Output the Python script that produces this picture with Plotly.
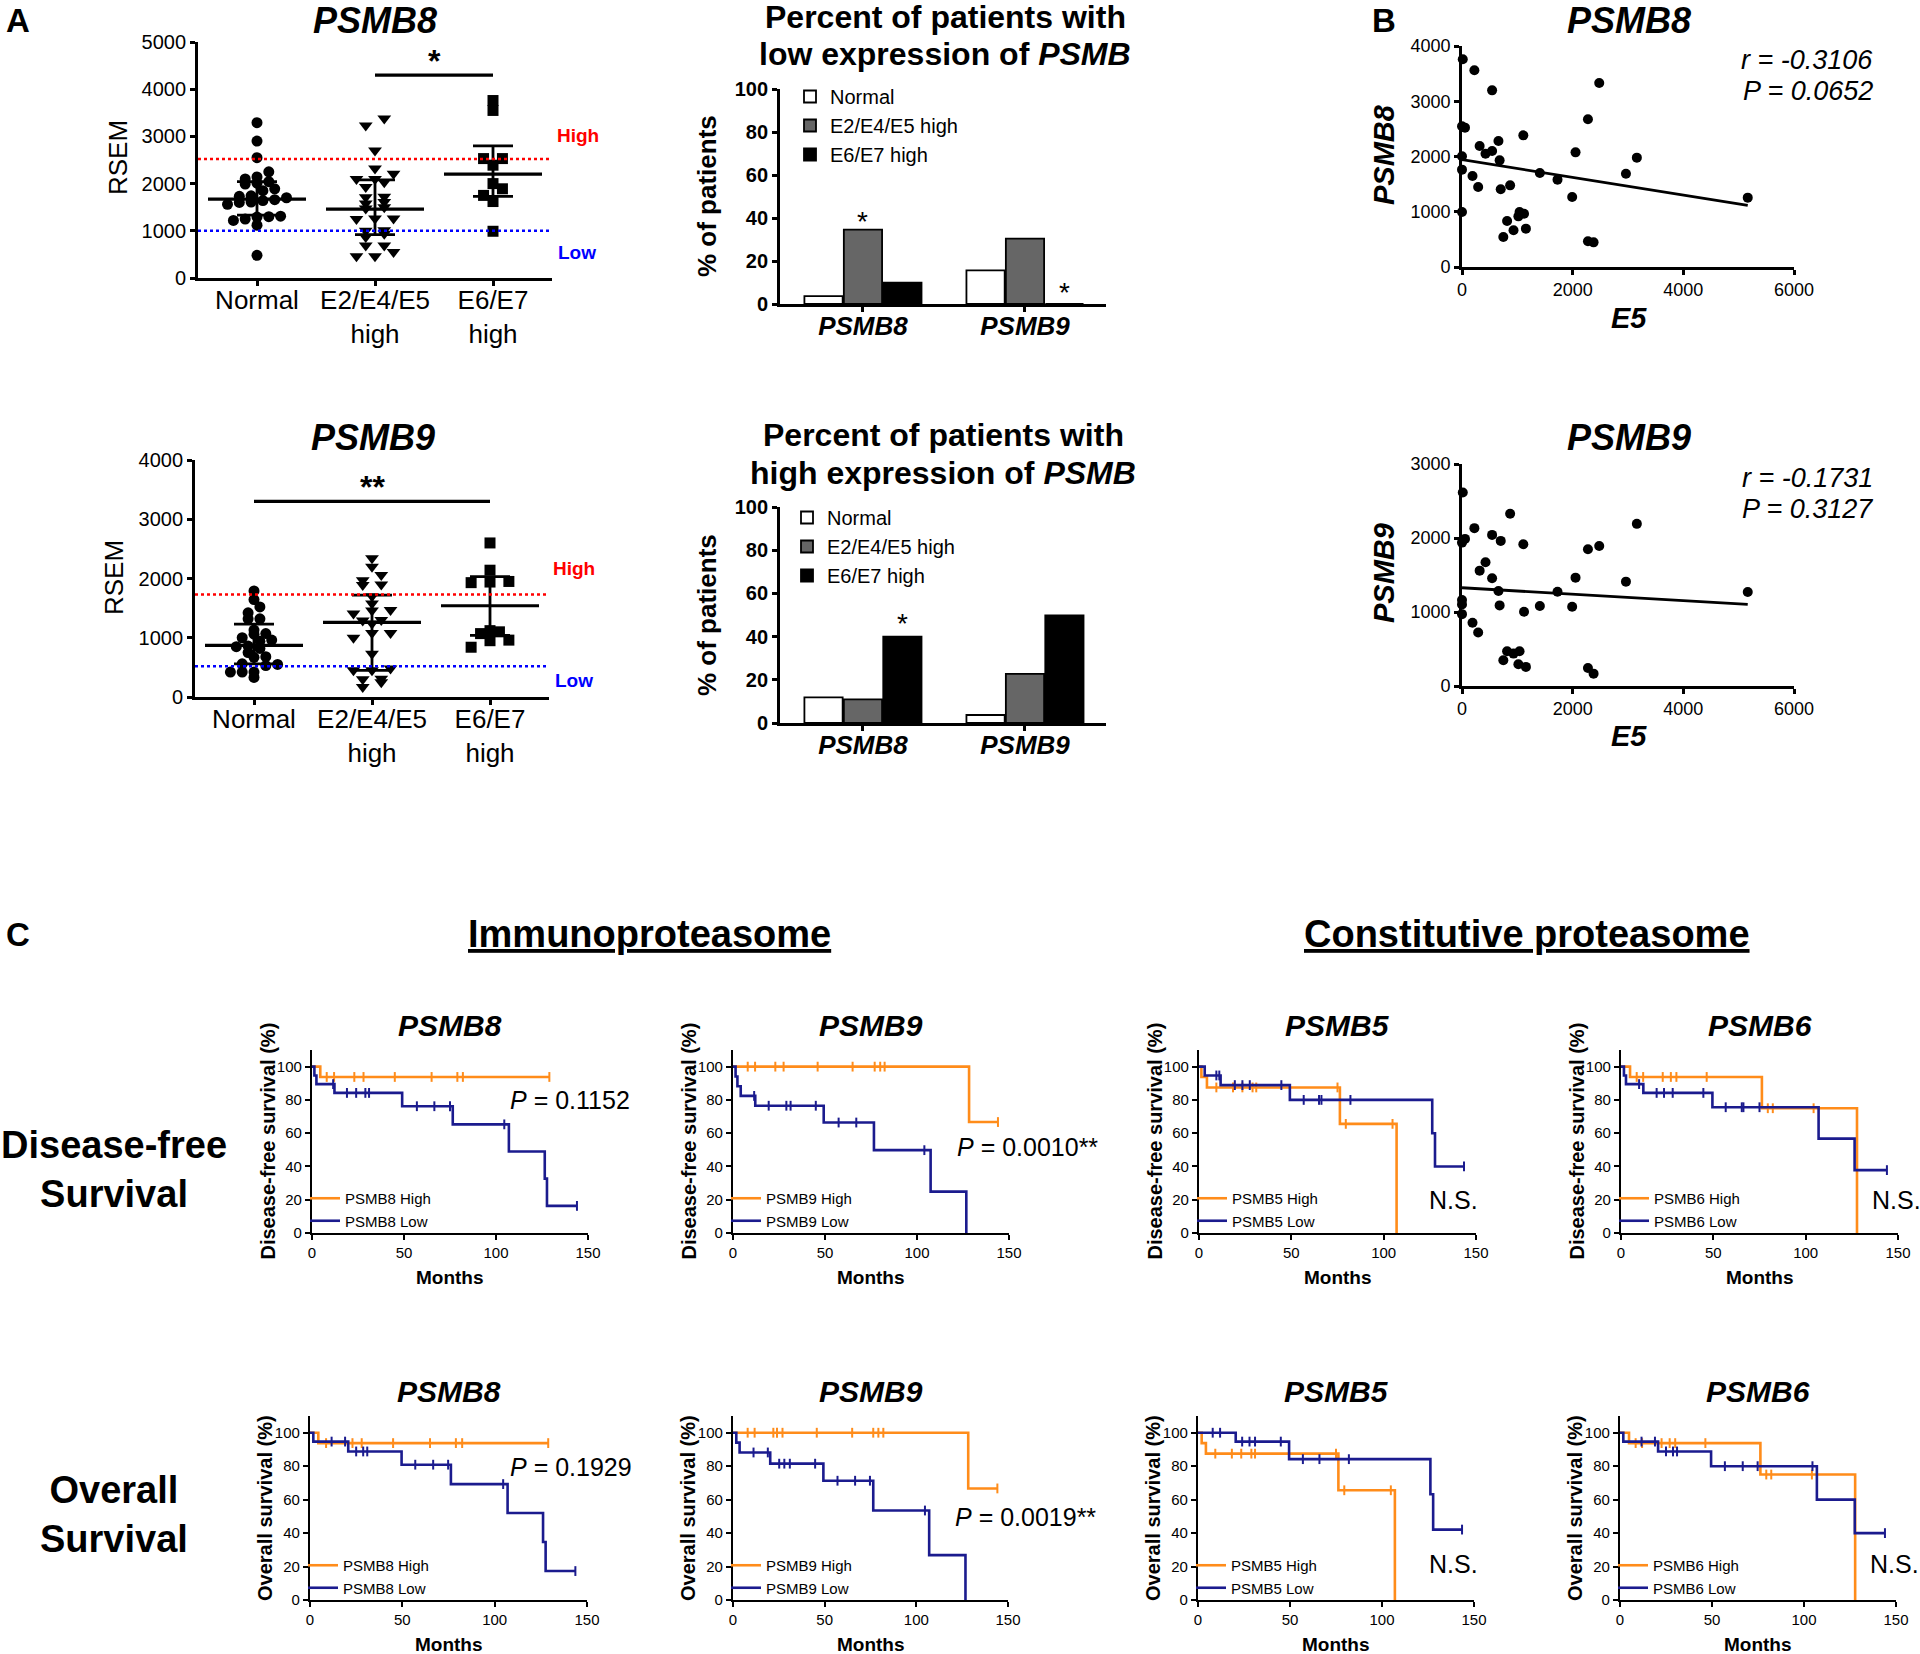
import numpy as np
import plotly.graph_objects as go

W, H = 1920, 1654
FONT = "Liberation Sans, Arial, Helvetica, sans-serif"
ORANGE = "#FF8C1A"
NAVY = "#1B1B8E"
GRAY = "#666666"

# ---------------- Panel A : expression dot plots ----------------
a_categories = ["Normal", "E2/E4/E5<br>high", "E6/E7<br>high"]

psmb8_normal = [3290, 2900, 2550, 2250, 2140, 2100, 2040, 2010, 1990, 1890, 1850, 1740, 1730,
                1700, 1660, 1640, 1610, 1600, 1560, 1310, 1300, 1290, 1250, 1220, 1120, 480]
psmb8_e2e4e5 = [3380, 3230, 2700, 2320, 2210, 2100, 2100, 2030, 1930, 1720, 1710, 1610, 1580,
                1500, 1470, 1260, 1260, 1250, 1010, 1000, 940, 870, 690, 690, 550, 460, 460]
psmb8_e6e7 = [3760, 3550, 2530, 2530, 2390, 2000, 1890, 1750, 1620, 990]
psmb8_center = [1670, 1460, 2200]
psmb8_lower = [1330, 920, 1730]
psmb8_upper = [2040, 2080, 2800]
psmb8_cut_high = 2520
psmb8_cut_low = 1000
psmb8_sig_level = 4300

psmb9_normal = [1790, 1645, 1520, 1420, 1320, 1320, 1130, 1070, 1060, 1000, 960, 940, 860,
                850, 820, 750, 680, 670, 560, 550, 530, 420, 420, 420, 330]
psmb9_e2e4e5 = [2340, 2200, 2060, 1970, 1900, 1890, 1700, 1580, 1470, 1460, 1410, 1300, 1290,
                1240, 1080, 1080, 1000, 730, 480, 450, 450, 310, 300, 250, 170]
psmb9_e6e7 = [2600, 2140, 1950, 1940, 1930, 1120, 1100, 1070, 960, 950, 840]
psmb9_center = [870, 1260, 1540]
psmb9_lower = [560, 450, 1040]
psmb9_upper = [1230, 1720, 2030]
psmb9_cut_high = 1730
psmb9_cut_low = 520
psmb9_sig_level = 3300

# ---------------- Panel A : percent bar charts ----------------
bar_genes = ["PSMB8", "PSMB9"]
bar_series = ["Normal", "E2/E4/E5 high", "E6/E7 high"]
low_normal = [3.7, 15.6]
low_e2e4e5 = [34.6, 30.4]
low_e6e7 = [9.9, 0.0]
high_normal = [11.9, 3.7]
high_e2e4e5 = [10.9, 22.7]
high_e6e7 = [40.0, 49.8]

# ---------------- Panel B : correlation with E5 ----------------
e5_expr = [0, 0, 0, 0, 14, 54, 190, 224, 292, 319, 425, 544, 544, 659, 680, 700, 747, 815,
           870, 931, 1019, 1040, 1108, 1121, 1155, 1407, 1726, 1991, 2052, 2276, 2276, 2378,
           2480, 2963, 3160, 5164]
psmb8_vs_e5 = [2546, 2003, 1762, 995, 3759, 2522, 1647, 3560, 1448, 2190, 2051, 3197, 2100,
               2280, 1930, 1406, 543, 833, 1478, 664, 917, 995, 2383, 965, 694, 1701, 1581,
               1267, 2075, 2673, 465, 446, 3330, 1689, 1979, 1255]
psmb9_vs_e5 = [1938, 1161, 1102, 971, 2616, 1988, 854, 2133, 723, 1559, 1672, 2042, 1455,
               1283, 1089, 1961, 348, 470, 2327, 438, 294, 470, 1916, 1003, 258, 1080, 1274,
               1071, 1464, 1848, 244, 167, 1893, 1410, 2191, 1270]

# ---------------- Panel C : Kaplan-Meier curves ----------------
km_x_ticks = [0, 50, 100, 150]
km_y_ticks = [0, 20, 40, 60, 80, 100]

DFS_PSMB8_HIGH = dict(events=[4.5], levels=[93.8], end=129,
                      censored=[8, 12, 23, 28, 45, 65, 79, 82, 129])
DFS_PSMB8_LOW = dict(events=[1.3, 2.4, 12.2, 49, 76.5, 107, 126.5, 127.7],
                     levels=[94.7, 89.5, 84.2, 76.2, 65.3, 49.0, 32.7, 16.3], end=144,
                     censored=[11.5, 19, 24, 29, 31, 57, 66.5, 75, 104.5, 144])
DFS_PSMB9_HIGH = dict(events=[128.3], levels=[66.7], end=144,
                      censored=[8, 12, 23, 27.5, 46, 65, 77, 80, 82.4, 144])
DFS_PSMB9_LOW = dict(events=[1.4, 2.4, 4.2, 12.1, 49.3, 76.6, 107.4, 126.8],
                     levels=[94.1, 88.2, 82.4, 76.5, 66.4, 49.8, 24.9, 0], end=126.8,
                     censored=[11.5, 19.4, 29, 31.3, 45, 57.4, 67, 104])
DFS_PSMB5_HIGH = dict(events=[1.3, 4.3, 76.3, 107], levels=[93.8, 87.5, 65.6, 0], end=107,
                      censored=[9.4, 18.4, 23.5, 29, 31, 75, 79.5, 104.8])
DFS_PSMB5_LOW = dict(events=[3.1, 11.7, 49.2, 126.3, 127.8],
                     levels=[94.7, 88.9, 80.0, 60.0, 40.0], end=143.5,
                     censored=[9.4, 11, 19.4, 23.5, 27.5, 44.6, 56.7, 65, 66.3, 82, 143.5])
DFS_PSMB6_HIGH = dict(events=[4.9, 76.3, 127.8], levels=[93.8, 75.0, 0], end=127.8,
                      censored=[8.5, 12, 22.6, 27, 30, 46.4, 79.5, 82.2, 104.3])
DFS_PSMB6_LOW = dict(events=[1.6, 2.7, 12.1, 49.5, 107, 126.5],
                     levels=[94.7, 89.5, 84.2, 75.6, 56.7, 37.8], end=144,
                     censored=[9.8, 19.3, 23.3, 28, 44.6, 56.7, 65.4, 66.3, 75, 144])

OS_PSMB8_HIGH = dict(events=[4.5], levels=[93.8], end=129,
                     censored=[8.7, 23, 28, 45, 65, 79, 82.4, 129])
OS_PSMB8_LOW = dict(events=[1.8, 20.7, 49.6, 76.3, 107, 126.2, 127.6],
                    levels=[94.7, 88.8, 80.9, 69.3, 52.0, 34.7, 17.3], end=143.7,
                    censored=[11.7, 19, 25, 28.8, 31, 57, 66.7, 74.8, 104.6, 143.7])
OS_PSMB9_HIGH = dict(events=[128.3], levels=[66.7], end=144.2,
                     censored=[8, 11.8, 22, 24, 27, 45.7, 65, 76.5, 79.3, 82, 144.2])
OS_PSMB9_LOW = dict(events=[1.8, 3.6, 20.3, 49.3, 76.5, 107, 126.8],
                    levels=[94.1, 88.2, 81.5, 71.3, 53.5, 26.8, 0], end=126.8,
                    censored=[11.2, 19, 25.2, 28, 31, 44.8, 57, 66.6, 74.7, 104.7])
OS_PSMB5_HIGH = dict(events=[2.0, 4.3, 76.3, 107], levels=[93.8, 87.5, 65.6, 0], end=107,
                     censored=[9.4, 18.4, 23.5, 29, 31, 75, 79.5, 104.8])
OS_PSMB5_LOW = dict(events=[20.5, 49.5, 126.3, 127.8], levels=[94.7, 84.2, 63.2, 42.1],
                    end=143.5, censored=[8, 12, 24, 28, 31, 45, 57, 66, 82, 143.5])
OS_PSMB6_HIGH = dict(events=[4.9, 76.3, 127.8], levels=[93.8, 75.0, 0], end=127.8,
                     censored=[8.5, 12, 22.6, 27, 30, 46.4, 79.5, 82.2, 104.3])
OS_PSMB6_LOW = dict(events=[1.8, 20.7, 49.5, 107, 127.6], levels=[94.7, 88.8, 80.0, 60.0, 40.0],
                    end=144, censored=[11.7, 19, 25, 28.8, 31, 57, 66.7, 74.8, 104.6, 144])

# ================================================================
layout = dict(width=W, height=H, margin=dict(l=0, r=0, t=0, b=0, pad=0, autoexpand=False),
              paper_bgcolor="white", plot_bgcolor="rgba(0,0,0,0)",
              font=dict(family=FONT, color="black"), showlegend=True,
              barmode="group", bargap=0.27, bargroupgap=0.03)
traces, annotations, shapes = [], [], []
n_axes = [0]


def paper(x, y):
    return x / W, 1 - y / H


def txt(x, y, text, size, bold=False, italic=False, color="black", xanchor="center",
        yanchor="middle", angle=0):
    px, py = paper(x, y)
    annotations.append(dict(xref="paper", yref="paper", x=px, y=py, text=text, showarrow=False,
                            textangle=angle, xanchor=xanchor, yanchor=yanchor,
                            font=dict(size=size, color=color, family=FONT,
                                      weight="bold" if bold else "normal",
                                      style="italic" if italic else "normal")))


def axis_style(lw, tl, tfs, bold=False, italic=False, **kw):
    d = dict(showline=True, linecolor="black", linewidth=lw, ticks="outside", ticklen=tl,
             tickwidth=lw, tickcolor="black", showgrid=False, zeroline=False, automargin=False,
             tickfont=dict(size=tfs, family=FONT, color="black",
                           weight="bold" if bold else "normal",
                           style="italic" if italic else "normal"))
    d.update(kw)
    return d


def new_axes(x0, x1, ytop, ybot, xkw, ykw):
    n_axes[0] += 1
    s = "" if n_axes[0] == 1 else str(n_axes[0])
    layout["xaxis" + s] = dict(domain=[x0 / W, x1 / W], anchor="y" + s, **xkw)
    layout["yaxis" + s] = dict(domain=[1 - ybot / H, 1 - ytop / H], anchor="x" + s, **ykw)
    return "x" + s, "y" + s


def swarm(values, binw, step):
    vals = np.asarray(values, float)
    bins = np.floor(vals / binw).astype(int)
    offs = np.zeros(len(vals))
    for b in np.unique(bins):
        idx = np.where(bins == b)[0]
        idx = idx[np.argsort(vals[idx])]
        n = len(idx)
        offs[idx] = (np.arange(n) - (n - 1) / 2) * step
    return offs


# ---------------- Panel A dot plots ----------------
def dot_panel(x0, x1, ytop, ybot, ymax, groups, center, lower, upper, cut_hi, cut_lo,
              sig_from, sig_to, sig_level, sig_text, binw):
    xa, ya = new_axes(x0, x1, ytop, ybot,
                      axis_style(2.8, 5, 26, range=[-0.5, 2.5], tickvals=[0, 1, 2],
                                 ticktext=a_categories, ticklabelstandoff=-8),
                      axis_style(2.8, 5, 20, range=[0, ymax], dtick=1000))
    symbols = ["circle", "triangle-down", "square"]
    steps = [0.1, 0.157, 0.16]
    sizes = [11, 12, 11]
    for gi, vals in enumerate(groups):
        off = swarm(vals, binw, steps[gi])
        traces.append(go.Scatter(x=gi + off, y=vals, mode="markers", xaxis=xa, yaxis=ya,
                                 showlegend=False, cliponaxis=False,
                                 marker=dict(symbol=symbols[gi], size=sizes[gi], color="black")))
    c = np.array(center, float)
    traces.append(go.Scatter(
        x=[0, 1, 2], y=c, mode="markers", xaxis=xa, yaxis=ya, showlegend=False,
        cliponaxis=False,
        marker=dict(symbol="line-ew-open", size=70, color="black",
                    line=dict(width=3.2, color="black")),
        error_y=dict(type="data", symmetric=False, array=np.array(upper) - c,
                     arrayminus=c - np.array(lower), thickness=2.8, width=20, color="black")))
    for val, col in ((cut_hi, "#FF0000"), (cut_lo, "#0000FF")):
        shapes.append(dict(type="line", xref=xa + " domain", yref=ya, x0=0, x1=1, y0=val, y1=val,
                           line=dict(color=col, width=2.6, dash="dot")))
    shapes.append(dict(type="line", xref=xa, yref=ya, x0=sig_from, x1=sig_to, y0=sig_level,
                       y1=sig_level, line=dict(color="black", width=3.2)))
    annotations.append(dict(xref=xa, yref=ya, x=(sig_from + sig_to) / 2, y=sig_level,
                            text=sig_text, showarrow=False, yanchor="bottom", yshift=-6,
                            font=dict(size=32, family=FONT, color="black", weight="bold")))


dot_panel(198, 552, 42, 278, 5000, [psmb8_normal, psmb8_e2e4e5, psmb8_e6e7],
          psmb8_center, psmb8_lower, psmb8_upper, psmb8_cut_high, psmb8_cut_low,
          1, 2, psmb8_sig_level, "*", 190)
dot_panel(195, 549, 460, 697, 4000, [psmb9_normal, psmb9_e2e4e5, psmb9_e6e7],
          psmb9_center, psmb9_lower, psmb9_upper, psmb9_cut_high, psmb9_cut_low,
          0, 2, psmb9_sig_level, "**", 140)

txt(18, 20, "A", 33, bold=True)
txt(375, 20, "PSMB8", 36, bold=True, italic=True)
txt(373, 438, "PSMB9", 36, bold=True, italic=True)
txt(118, 158, "RSEM", 26, angle=-90)
txt(114, 578, "RSEM", 26, angle=-90)
txt(578, 135, "High", 19, bold=True, color="#FF0000")
txt(577, 252, "Low", 19, bold=True, color="#0000FF")
txt(574, 569, "High", 19, bold=True, color="#FF0000")
txt(574, 681, "Low", 19, bold=True, color="#0000FF")


# ---------------- Panel A bar charts ----------------
def bar_panel(ytop, ybot, series_vals, legend_name, legend_x, legend_top, stars):
    xa, ya = new_axes(780, 1106, ytop, ybot,
                      axis_style(2.8, 5, 26, bold=True, italic=True, range=[-0.512, 1.5],
                                 tickvals=[0, 1], ticktext=bar_genes, ticklabelstandoff=-8),
                      axis_style(2.8, 5, 20, bold=True, range=[0, 100], dtick=20))
    colors = ["white", GRAY, "black"]
    for name, vals, col in zip(bar_series, series_vals, colors):
        traces.append(go.Bar(x=[0, 1], y=vals, name=name, xaxis=xa, yaxis=ya,
                             legend=legend_name, marker=dict(color=col,
                                                             line=dict(color="black", width=1.8))))
    lx, ly = paper(legend_x, legend_top)
    layout[legend_name] = dict(x=lx, y=ly, xanchor="left", yanchor="top",
                               bgcolor="rgba(0,0,0,0)", font=dict(size=20, family=FONT),
                               tracegroupgap=0, itemwidth=30)
    slot = (1 - layout["bargap"]) / 3
    for gi, si, shift in stars:
        annotations.append(dict(xref=xa, yref=ya, x=gi + (si - 1) * slot,
                                y=series_vals[si][gi], text="*", showarrow=False,
                                yanchor="middle", yshift=shift,
                                font=dict(size=28, family=FONT, color="black")))


bar_panel(89, 304, [low_normal, low_e2e4e5, low_e6e7], "legend", 790, 77,
          [(0, 1, 8), (1, 2, 11)])
bar_panel(507, 723, [high_normal, high_e2e4e5, high_e6e7], "legend2", 787, 498,
          [(0, 2, 13)])
txt(945, 17, "Percent of patients with", 32, bold=True)
txt(945, 54, "low expression of <i>PSMB</i>", 32, bold=True)
txt(943, 435, "Percent of patients with", 32, bold=True)
txt(943, 473, "high expression of <i>PSMB</i>", 32, bold=True)
txt(707, 196, "% of patients", 26, bold=True, angle=-90)
txt(707, 615, "% of patients", 26, bold=True, angle=-90)


# ---------------- Panel B scatter plots ----------------
def scatter_panel(ytop, ybot, ymax, yvals):
    xa, ya = new_axes(1462, 1794, ytop, ybot,
                      axis_style(2.6, 5, 18, range=[0, 6000], dtick=2000),
                      axis_style(2.6, 5, 18, range=[0, ymax], dtick=1000))
    traces.append(go.Scatter(x=e5_expr, y=yvals, mode="markers", xaxis=xa, yaxis=ya,
                             showlegend=False, cliponaxis=False,
                             marker=dict(symbol="circle", size=10, color="black")))
    slope, icpt = np.polyfit(np.array(e5_expr, float), np.array(yvals, float), 1)
    xl = np.array([0, max(e5_expr)], float)
    traces.append(go.Scatter(x=xl, y=slope * xl + icpt, mode="lines", xaxis=xa, yaxis=ya,
                             showlegend=False, cliponaxis=False,
                             line=dict(color="black", width=2.8)))


scatter_panel(46, 267, 4000, psmb8_vs_e5)
scatter_panel(464, 686, 3000, psmb9_vs_e5)
txt(1384, 20, "B", 33, bold=True)
txt(1629, 20, "PSMB8", 36, bold=True, italic=True)
txt(1629, 438, "PSMB9", 36, bold=True, italic=True)
txt(1384, 155, "PSMB8", 29, bold=True, italic=True, angle=-90)
txt(1384, 573, "PSMB9", 29, bold=True, italic=True, angle=-90)
txt(1629, 318, "E5", 29, bold=True, italic=True)
txt(1629, 736, "E5", 29, bold=True, italic=True)
txt(1875, 60, "r = -0.3106", 27, italic=True, xanchor="right")
txt(1875, 91, "P = 0.0652", 27, italic=True, xanchor="right")
txt(1875, 478, "r = -0.1731", 27, italic=True, xanchor="right")
txt(1875, 509, "P = 0.3127", 27, italic=True, xanchor="right")


# ---------------- Panel C Kaplan-Meier ----------------
def km_path(curve):
    xs = [0.0] + list(curve["events"])
    ys = [100.0] + list(curve["levels"])
    if curve["end"] > xs[-1]:
        xs.append(curve["end"])
        ys.append(ys[-1])
    return xs, ys


def km_at(curve, t):
    s = 100.0
    for e, lv in zip(curve["events"], curve["levels"]):
        if e <= t:
            s = lv
    return s


legend_counter = [2]


def km_panel(x0, x1, ytop, ybot, gene, high, low, ytitle):
    xa, ya = new_axes(x0, x1, ytop, ybot,
                      axis_style(2.2, 5, 15, range=[0, 150], tickvals=km_x_ticks),
                      axis_style(2.2, 5, 15, range=[0, 110], tickvals=km_y_ticks))
    legend_counter[0] += 1
    lname = "legend" + str(legend_counter[0])
    for curve, col, label in ((high, ORANGE, gene + " High"), (low, NAVY, gene + " Low")):
        xs, ys = km_path(curve)
        traces.append(go.Scatter(x=xs, y=ys, mode="lines", line_shape="hv", name=label,
                                 xaxis=xa, yaxis=ya, legend=lname, cliponaxis=False,
                                 line=dict(color=col, width=2.6)))
        cx = list(curve["censored"])
        cy = [km_at(curve, t) for t in cx]
        traces.append(go.Scatter(x=cx, y=cy, mode="markers", xaxis=xa, yaxis=ya,
                                 showlegend=False, cliponaxis=False,
                                 marker=dict(symbol="line-ns-open", size=7, color=col,
                                             line=dict(color=col, width=2))))
    lx, ly = paper(x0 - 7, ybot - 51)
    layout[lname] = dict(x=lx, y=ly, xanchor="left", yanchor="top", bgcolor="rgba(0,0,0,0)",
                         font=dict(size=15, family=FONT), tracegroupgap=0, itemwidth=30)
    xc = (x0 + x1) / 2
    txt(xc, ytop - 25, gene, 30, bold=True, italic=True)
    txt(x0 - 45, (ytop + ybot) / 2, ytitle, 20, bold=True, angle=-90)
    txt(xc, ybot + 44, "Months", 19, bold=True)


dfs_cols = [(312, 588), (733, 1009), (1199, 1476), (1621, 1898)]
os_cols = [(310, 587), (733, 1008), (1198, 1474), (1620, 1896)]
dfs_sets = [("PSMB8", DFS_PSMB8_HIGH, DFS_PSMB8_LOW), ("PSMB9", DFS_PSMB9_HIGH, DFS_PSMB9_LOW),
            ("PSMB5", DFS_PSMB5_HIGH, DFS_PSMB5_LOW), ("PSMB6", DFS_PSMB6_HIGH, DFS_PSMB6_LOW)]
os_sets = [("PSMB8", OS_PSMB8_HIGH, OS_PSMB8_LOW), ("PSMB9", OS_PSMB9_HIGH, OS_PSMB9_LOW),
           ("PSMB5", OS_PSMB5_HIGH, OS_PSMB5_LOW), ("PSMB6", OS_PSMB6_HIGH, OS_PSMB6_LOW)]
for (x0, x1), (g, hi, lo) in zip(dfs_cols, dfs_sets):
    km_panel(x0, x1, 1050, 1233, g, hi, lo, "Disease-free survival (%)")
for (x0, x1), (g, hi, lo) in zip(os_cols, os_sets):
    km_panel(x0, x1, 1416, 1600, g, hi, lo, "Overall survival (%)")

txt(508, 1100, "<i>P</i> = 0.1152", 25, xanchor="left")
txt(955, 1147, "<i>P</i> = 0.0010**", 25, xanchor="left")
txt(508, 1467, "<i>P</i> = 0.1929", 25, xanchor="left")
txt(953, 1517, "<i>P</i> = 0.0019**", 25, xanchor="left")
txt(1427, 1200, "N.S.", 25, xanchor="left")
txt(1870, 1200, "N.S.", 25, xanchor="left")
txt(1427, 1564, "N.S.", 25, xanchor="left")
txt(1868, 1564, "N.S.", 25, xanchor="left")

txt(18, 934, "C", 33, bold=True)
txt(649, 934, "<u>Immunoproteasome</u>", 38, bold=True)
txt(1527, 934, "<u>Constitutive proteasome</u>", 38, bold=True)
txt(114, 1169, "Disease-free<br>Survival", 38, bold=True)
txt(114, 1514, "Overall<br>Survival", 38, bold=True)

layout["annotations"] = annotations
layout["shapes"] = shapes
fig = go.Figure(data=traces, layout=layout)
fig.write_html("out.html", config={"displayModeBar": False},
               post_script="document.body.style.margin='0px';"
                           "document.body.style.overflow='hidden';")
